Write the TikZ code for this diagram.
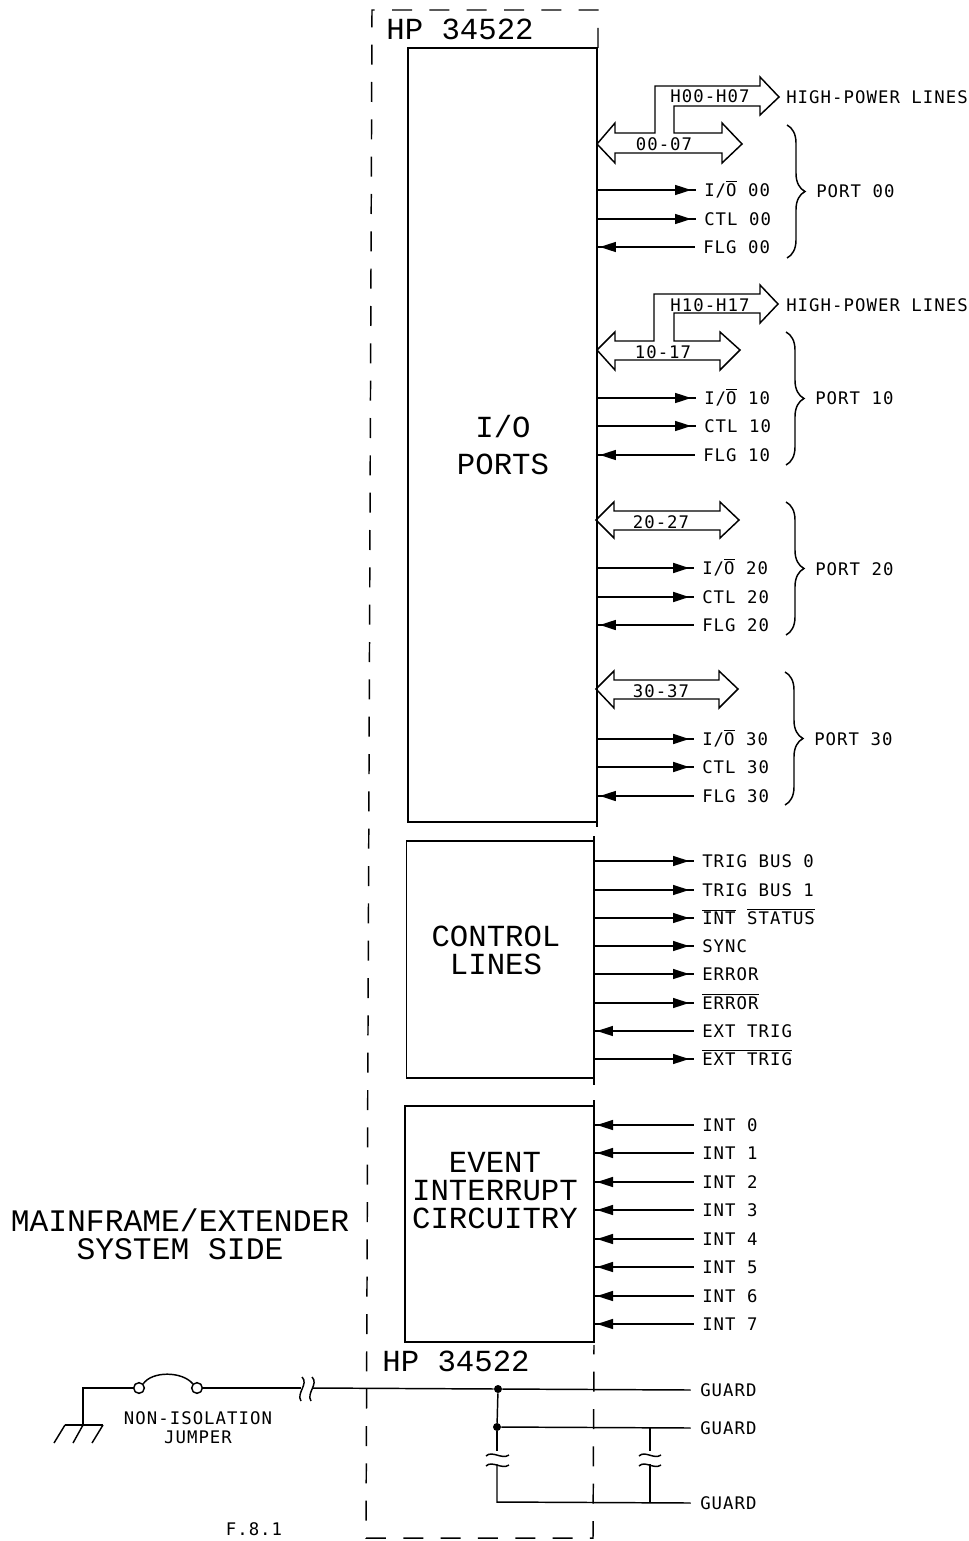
\documentclass[tikz,border=0pt]{standalone}
\usepackage{fontspec}
\usetikzlibrary{arrows.meta,decorations.markings,decorations.pathreplacing}
\newfontfamily\plotfont[LetterSpace=6]{DejaVu Sans Mono}
\newfontfamily\titlefont{Liberation Mono}
\newcommand{\barred}[1]{$\overline{\hbox{#1}}$}
\tikzset{
    plotline/.style={line width=1.1pt},
    siglabel/.style={font=\plotfont\fontsize{13}{15}\selectfont, anchor=west, inner sep=0pt, text height=9.5pt, text depth=0pt},
    buslabel/.style={font=\plotfont\fontsize{13}{15}\selectfont, inner sep=0pt},
    bigtext/.style={font=\titlefont\fontsize{23}{21}\selectfont, align=center, inner sep=0pt},
    block/.style={draw, plotline, rectangle, inner sep=0pt, outer sep=0pt},
    sigout/.style={plotline, decoration={markings, mark=at position 0.95 with {\arrow{Stealth[length=12pt,width=7.5pt,inset=0pt]}}}, postaction=decorate},
    sigin/.style={plotline, decoration={markings, mark=at position 0.03 with {\arrowreversed{Stealth[length=12pt,width=7.5pt,inset=0pt]}}}, postaction=decorate},
    portbrace/.style={plotline, decorate, decoration={brace, amplitude=13.5pt}},
    junction/.style={circle, fill, inner sep=0pt, minimum size=6pt},
    contact/.style={circle, draw, plotline, inner sep=0pt, minimum size=8pt}
}
\begin{document}
\begin{tikzpicture}[x=0.75pt, y=-0.75pt]
    \fill[white] (0,0) rectangle (969,1541);
    \useasboundingbox (0,0) rectangle (969,1541);

    % 1. Blocks and dashed outline
    \draw[plotline, dash pattern=on 15pt off 13pt] (598,48) -- (598,10) -- (372,10) -- (366,1538) -- (593,1538) -- (594,1345);
    \node[block, minimum width=141.75pt, minimum height=580.5pt] (ioblock) at (502.5,435) {};
    \node[block, minimum width=140.6pt, minimum height=177.75pt] (ctlblock) at (500.25,959.5) {};
    \node[block, minimum width=141.75pt, minimum height=177pt] (evtblock) at (499.5,1224) {};
    \draw[plotline] (ioblock.south east) -- ++(0,5);
    \draw[plotline] (ctlblock.north east) -- ++(0,-5);
    \draw[plotline] (ctlblock.south east) -- ++(0,7);
    \draw[plotline] (evtblock.north east) -- ++(0,-6);

    % 2. Big labels
    \node[bigtext] (hptop) at (460,29) {HP 34522};
    \node[bigtext] (hpbottom) at (456,1361) {HP 34522};
    \node[bigtext] (iotext) at (503,445.5) {I/O\\[6.75pt]PORTS};
    \node[bigtext] (ctltext) at (496,950) {CONTROL\\LINES};
    \node[bigtext] (evttext) at (495,1191) {EVENT\\INTERRUPT\\CIRCUITRY};
    \node[bigtext, font=\titlefont\fontsize{23.5}{21}\selectfont] (sidetext) at (180,1234) {MAINFRAME/EXTENDER\\SYSTEM SIDE};
    \node[buslabel, align=center, font=\plotfont\fontsize{13}{14.25}\selectfont] (jumpertext) at (198,1428) {NON-ISOLATION\\JUMPER};
    \node[buslabel] (figtext) at (254,1529) {F.8.1};

    % 3. Wide bus arrows
    \draw[plotline] (597,144) -- (615,123) -- (615,133) -- (655,133) -- (655,86) -- (760,86) -- (760,77) -- (779,97)
        -- (760,115) -- (760,106) -- (674,106) -- (674,133) -- (722,133) -- (722,123) -- (742,144) -- (722,163)
        -- (722,153) -- (615,153) -- (615,163) -- cycle;
    \draw[plotline] (597,350) -- (615,332) -- (615,341) -- (654,341) -- (654,294) -- (760,294) -- (760,285) -- (778,304)
        -- (760,323) -- (760,313) -- (674,313) -- (674,341) -- (720,341) -- (720,332) -- (740,350) -- (720,370)
        -- (720,360) -- (615,360) -- (615,370) -- cycle;
    \draw[plotline] (596,520) -- (614,502) -- (614,511) -- (720,511) -- (720,502) -- (739,520) -- (720,538)
        -- (720,530) -- (614,530) -- (614,538) -- cycle;
    \draw[plotline] (596,689) -- (614,671) -- (614,680) -- (719,680) -- (719,671) -- (738,689) -- (719,708)
        -- (719,699) -- (614,699) -- (614,708) -- cycle;
    \node[buslabel] (h00) at (710,96) {H00-H07};
    \node[buslabel] (b00) at (664,144) {00-07};
    \node[buslabel] (h10) at (710,305) {H10-H17};
    \node[buslabel] (b10) at (663,352) {10-17};
    \node[buslabel] (b20) at (661,522) {20-27};
    \node[buslabel] (b30) at (661,691) {30-37};
    \node[siglabel] (hpl00) at (786,97) {HIGH-POWER LINES};
    \node[siglabel] (hpl10) at (786,305) {HIGH-POWER LINES};

    % 4. Port signals
    \node[siglabel] (io00) at (704,190) {I/\barred{O} 00};
    \node[siglabel] (ctl00) at (704,219) {CTL 00};
    \node[siglabel] (flg00) at (703,247) {FLG 00};
    \node[siglabel] (io10) at (704,398) {I/\barred{O} 10};
    \node[siglabel] (ctl10) at (704,426) {CTL 10};
    \node[siglabel] (flg10) at (703,455) {FLG 10};
    \node[siglabel] (io20) at (702,568) {I/\barred{O} 20};
    \node[siglabel] (ctl20) at (702,597) {CTL 20};
    \node[siglabel] (flg20) at (702,625) {FLG 20};
    \node[siglabel] (io30) at (702,739) {I/\barred{O} 30};
    \node[siglabel] (ctl30) at (702,767) {CTL 30};
    \node[siglabel] (flg30) at (702,796) {FLG 30};
    \draw[sigout] (ioblock.east |- io00.west) -- ([xshift=-6pt]io00.west);
    \draw[sigout] (ioblock.east |- ctl00.west) -- ([xshift=-6pt]ctl00.west);
    \draw[sigin] (ioblock.east |- flg00.west) -- ([xshift=-6pt]flg00.west);
    \draw[sigout] (ioblock.east |- io10.west) -- ([xshift=-6pt]io10.west);
    \draw[sigout] (ioblock.east |- ctl10.west) -- ([xshift=-6pt]ctl10.west);
    \draw[sigin] (ioblock.east |- flg10.west) -- ([xshift=-6pt]flg10.west);
    \draw[sigout] (ioblock.east |- io20.west) -- ([xshift=-6pt]io20.west);
    \draw[sigout] (ioblock.east |- ctl20.west) -- ([xshift=-6pt]ctl20.west);
    \draw[sigin] (ioblock.east |- flg20.west) -- ([xshift=-6pt]flg20.west);
    \draw[sigout] (ioblock.east |- io30.west) -- ([xshift=-6pt]io30.west);
    \draw[sigout] (ioblock.east |- ctl30.west) -- ([xshift=-6pt]ctl30.west);
    \draw[sigin] (ioblock.east |- flg30.west) -- ([xshift=-6pt]flg30.west);

    % 5. Port braces
    \draw[portbrace] (787,125) -- (787,258);
    \draw[portbrace] (786,332) -- (786,465);
    \draw[portbrace] (786,502) -- (786,635);
    \draw[portbrace] (785,672) -- (785,805);
    \node[siglabel] (port00) at (816,191) {PORT 00};
    \node[siglabel] (port10) at (815,398) {PORT 10};
    \node[siglabel] (port20) at (815,569) {PORT 20};
    \node[siglabel] (port30) at (814,739) {PORT 30};

    % 6. Control lines
    \node[siglabel] (trig0) at (702,861) {TRIG BUS 0};
    \node[siglabel] (trig1) at (702,890) {TRIG BUS 1};
    \node[siglabel] (intstat) at (702,918) {\barred{INT} \barred{STATUS}};
    \node[siglabel] (sync) at (702,946) {SYNC};
    \node[siglabel] (err) at (702,974) {ERROR};
    \node[siglabel] (nerr) at (702,1003) {\barred{ERROR}};
    \node[siglabel] (ext) at (702,1031) {EXT TRIG};
    \node[siglabel] (next) at (702,1059) {\barred{EXT TRIG}};
    \draw[sigout] (ctlblock.east |- trig0.west) -- ([xshift=-6pt]trig0.west);
    \draw[sigout] (ctlblock.east |- trig1.west) -- ([xshift=-6pt]trig1.west);
    \draw[sigout] (ctlblock.east |- intstat.west) -- ([xshift=-6pt]intstat.west);
    \draw[sigout] (ctlblock.east |- sync.west) -- ([xshift=-6pt]sync.west);
    \draw[sigout] (ctlblock.east |- err.west) -- ([xshift=-6pt]err.west);
    \draw[sigout] (ctlblock.east |- nerr.west) -- ([xshift=-6pt]nerr.west);
    \draw[sigin] (ctlblock.east |- ext.west) -- ([xshift=-6pt]ext.west);
    \draw[sigout] (ctlblock.east |- next.west) -- ([xshift=-6pt]next.west);

    % 7. Event interrupts
    \node[siglabel] (int0) at (702,1125) {INT 0};
    \node[siglabel] (int1) at (702,1153) {INT 1};
    \node[siglabel] (int2) at (702,1182) {INT 2};
    \node[siglabel] (int3) at (702,1210) {INT 3};
    \node[siglabel] (int4) at (702,1239) {INT 4};
    \node[siglabel] (int5) at (702,1267) {INT 5};
    \node[siglabel] (int6) at (702,1296) {INT 6};
    \node[siglabel] (int7) at (702,1324) {INT 7};
    \draw[sigin] (evtblock.east |- int0.west) -- ([xshift=-6pt]int0.west);
    \draw[sigin] (evtblock.east |- int1.west) -- ([xshift=-6pt]int1.west);
    \draw[sigin] (evtblock.east |- int2.west) -- ([xshift=-6pt]int2.west);
    \draw[sigin] (evtblock.east |- int3.west) -- ([xshift=-6pt]int3.west);
    \draw[sigin] (evtblock.east |- int4.west) -- ([xshift=-6pt]int4.west);
    \draw[sigin] (evtblock.east |- int5.west) -- ([xshift=-6pt]int5.west);
    \draw[sigin] (evtblock.east |- int6.west) -- ([xshift=-6pt]int6.west);
    \draw[sigin] (evtblock.east |- int7.west) -- ([xshift=-6pt]int7.west);

    % 8. Ground, jumper and guard wiring
    \node[contact] (jumpl) at (139,1388) {};
    \node[contact] (jumpr) at (197,1388) {};
    \node[junction] (nodea) at (498,1389) {};
    \node[junction] (nodeb) at (497,1427) {};
    \node[siglabel] (guarda) at (700,1390) {GUARD};
    \node[siglabel] (guardb) at (700,1428) {GUARD};
    \node[siglabel] (guardc) at (700,1503) {GUARD};
    \coordinate (gndtop) at (83,1388);
    \coordinate (gndbus) at (83,1425);
    \coordinate (breakl) at (301,1388);
    \coordinate (breakr) at (313,1388);
    \coordinate (cornerc) at (497,1502);
    \coordinate (tapb) at (650,1427);
    \coordinate (tapc) at (650,1502);
    \draw[plotline] (jumpl) -- (gndtop) -- (gndbus);
    \draw[plotline] (65,1425) -- (103,1425);
    \draw[plotline] (65,1425) -- (54,1443) (83,1425) -- (73,1443) (103,1425) -- (92,1443);
    \draw[plotline] (jumpl.north east) .. controls (152,1371) and (182,1371) .. (jumpr.north west);
    \draw[plotline] (jumpr) -- (breakl);
    \draw[plotline] (302,1377) .. controls (309,1384) and (296,1393) .. (301,1401);
    \draw[plotline] (312,1377) .. controls (319,1384) and (306,1393) .. (311,1401);
    \draw[plotline] (breakr) -- (nodea);
    \draw[plotline] (nodea) -- ([xshift=-7pt]guarda.west);
    \draw[plotline] (nodea) -- (nodeb);
    \draw[plotline] (nodeb) -- ([xshift=-7pt]guardb.west);
    \draw[plotline] (nodeb) -- (497,1451);
    \draw[plotline] (486,1456) .. controls (492,1450) and (502,1460) .. (509,1455);
    \draw[plotline] (486,1466) .. controls (492,1460) and (502,1470) .. (509,1465);
    \draw[plotline] (497,1464) -- (cornerc) -- ([xshift=-7pt]guardc.west);
    \draw[plotline] (tapb) -- (650,1451);
    \draw[plotline] (639,1456) .. controls (645,1450) and (654,1460) .. (661,1455);
    \draw[plotline] (639,1466) .. controls (645,1460) and (654,1470) .. (661,1465);
    \draw[plotline] (650,1464) -- (tapc);
\end{tikzpicture}
\end{document}
